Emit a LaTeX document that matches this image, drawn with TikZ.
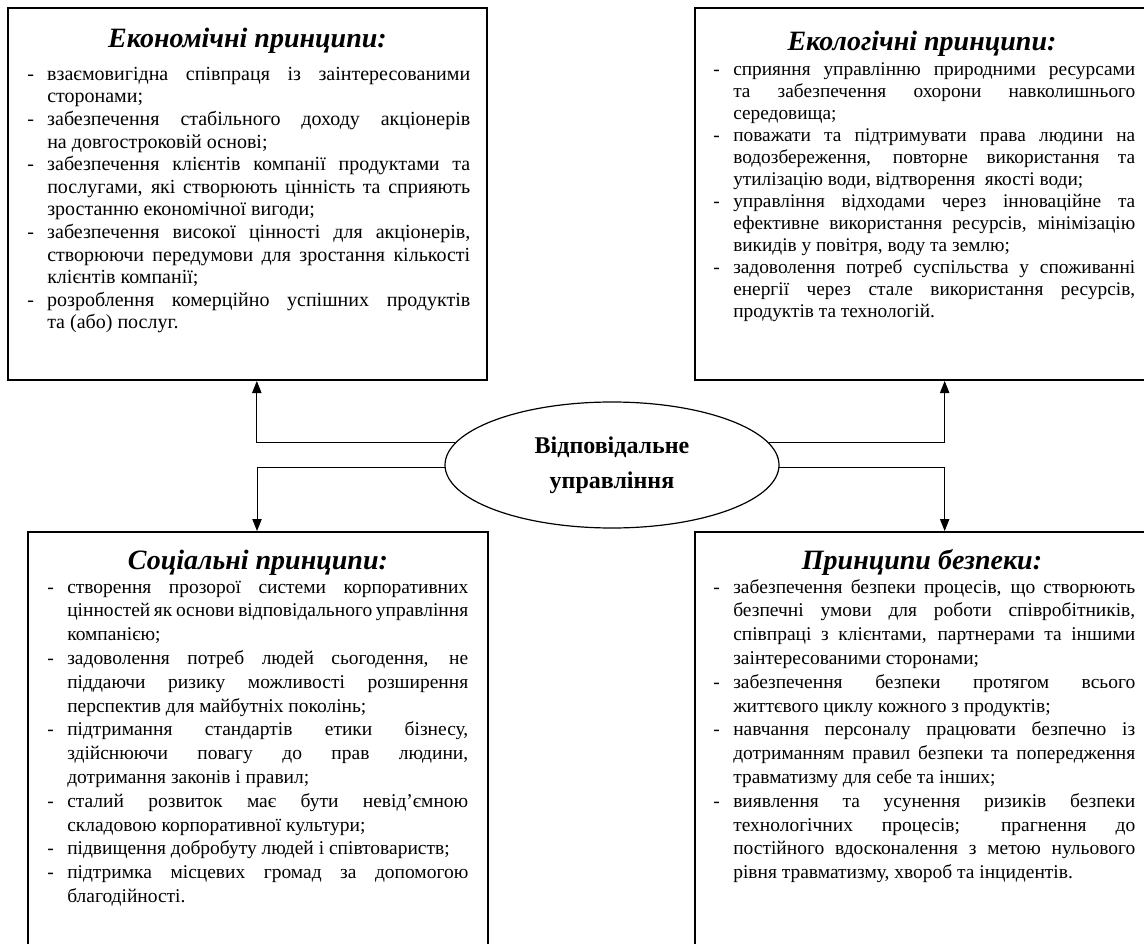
\documentclass[tikz,border=0pt]{standalone}
\usepackage{fontspec}
\setmainfont[WordSpace={1,1,2.4}]{Liberation Serif}
\usetikzlibrary{shapes.geometric,arrows.meta}

\newlength{\dashind}
\setlength{\dashind}{15pt}
\newcommand{\dashitem}{\par\noindent\hangindent=\dashind\hangafter=1\strut\makebox[\dashind][l]{-}}
\newcommand{\bodyset}[2]{\fontsize{#1}{#2}\selectfont\hyphenpenalty=10000 \exhyphenpenalty=10000 \tolerance=9999 \hfuzz=20pt }

\tikzset{
  frame/.style={draw, line width=1.5pt, inner sep=0pt},
  head/.style={anchor=base, inner sep=0pt, font=\fontsize{21}{25}\selectfont\bfseries\itshape},
  body/.style n args={3}{anchor=north west, inner sep=0pt, text width=#1, align=justify, font=\bodyset{#2}{#3}},
  link/.style={line width=0.75pt, -{Triangle[length=9pt,width=7pt]}},
}

\begin{document}
\begin{tikzpicture}[x=0.75pt, y=-0.75pt]
	\useasboundingbox (0,0) rectangle (1144,944);
	\clip (0,0) rectangle (1144,944);
	
	% frames
	\node[frame, minimum width=359.25pt, minimum height=279pt] (eco) at (247.5,194) {};
	\node[frame, minimum width=340.5pt, minimum height=279pt] (ecol) at (922,194) {};
	\node[frame, minimum width=345pt, minimum height=321pt] (soc) at (258,746) {};
	\node[frame, minimum width=340.5pt, minimum height=321pt] (safe) at (922,746) {};
	
	% centre
	\node[ellipse, draw, line width=0.9pt, minimum width=250.5pt, minimum height=94.5pt, inner sep=0pt,
	      align=center, font=\fontsize{18}{26}\selectfont\bfseries] (ell) at (612,465)
	      {Відповідальне\\управління};
	
	% headings
	\node[head] (ecoT) at (247.5,48) {Економічні принципи:};
	\node[head] (ecolT) at (922,51) {Екологічні принципи:};
	\node[head] (socT) at (258,569) {Соціальні принципи:};
	\node[head] (safeT) at (922,569) {Принципи безпеки:};
	
	% texts
	\node[body={332.25pt}{15pt}{16.95pt}] (ecoB) at (27,57.5) {%
		\dashitem взаємовигідна співпраця із заінтересованими\linebreak сторонами;
		\dashitem забезпечення стабільного доходу акціонерів\linebreak на довгостроковій основі;
		\dashitem забезпечення клієнтів компанії продуктами та\linebreak послугами, які створюють цінність та сприяють\linebreak зростанню економічної вигоди;
		\dashitem забезпечення високої цінності для акціонерів,\linebreak створюючи передумови для зростання кількості\linebreak клієнтів компанії;
		\dashitem розроблення комерційно успішних продуктів\linebreak та (або) послуг.\par};
	\node[body={316.5pt}{14.5pt}{16.5pt}] (ecolB) at (713,53.5) {%
		\dashitem сприяння управлінню природними ресурсами\linebreak та забезпечення охорони навколишнього\linebreak середовища;
		\dashitem поважати та підтримувати права людини на\linebreak водозбереження, повторне використання та\linebreak утилізацію води, відтворення\ \ якості води;
		\dashitem управління відходами через інноваційне та\linebreak ефективне використання ресурсів, мінімізацію\linebreak викидів у повітря, воду та землю;
		\dashitem задоволення потреб суспільства у споживанні\linebreak енергії через стале використання ресурсів,\linebreak продуктів та технологій.\par};
	\node[body={315.75pt}{14.6pt}{17.85pt}] (socB) at (47,569) {%
		\dashitem створення прозорої системи корпоративних\linebreak цінностей як основи відповідального управління\linebreak компанією;
		\dashitem задоволення потреб людей сьогодення, не\linebreak піддаючи ризику можливості розширення\linebreak перспектив для майбутніх поколінь;
		\dashitem підтримання стандартів етики бізнесу,\linebreak здійснюючи повагу до прав людини,\linebreak дотримання законів і правил;
		\dashitem сталий розвиток має бути невід’ємною\linebreak складовою корпоративної культури;
		\dashitem підвищення добробуту людей і співтовариств;
		\dashitem підтримка місцевих громад за допомогою\linebreak благодійності.\par};
	\node[body={316.5pt}{14.6pt}{17.85pt}] (safeB) at (713,569) {%
		\dashitem забезпечення безпеки процесів, що створюють\linebreak безпечні умови для роботи співробітників,\linebreak співпраці з клієнтами, партнерами та іншими\linebreak заінтересованими сторонами;
		\dashitem забезпечення безпеки протягом всього\linebreak життєвого циклу кожного з продуктів;
		\dashitem навчання персоналу працювати безпечно із\linebreak дотриманням правил безпеки та попередження\linebreak травматизму для себе та інших;
		\dashitem виявлення та усунення ризиків безпеки\linebreak технологічних процесів; прагнення до\linebreak постійного вдосконалення з метою нульового\linebreak рівня травматизму, хвороб та інцидентів.\par};
	
	% links
	\draw[link] (ell.172) -| ([xshift=7pt]eco.south);
	\draw[link] (ell.8) -| ([xshift=17pt]ecol.south);
	\draw[link] (ell.181) -| ([xshift=-0.75pt]soc.north);
	\draw[link] (ell.359) -| ([xshift=17pt]safe.north);
\end{tikzpicture}
\end{document}
